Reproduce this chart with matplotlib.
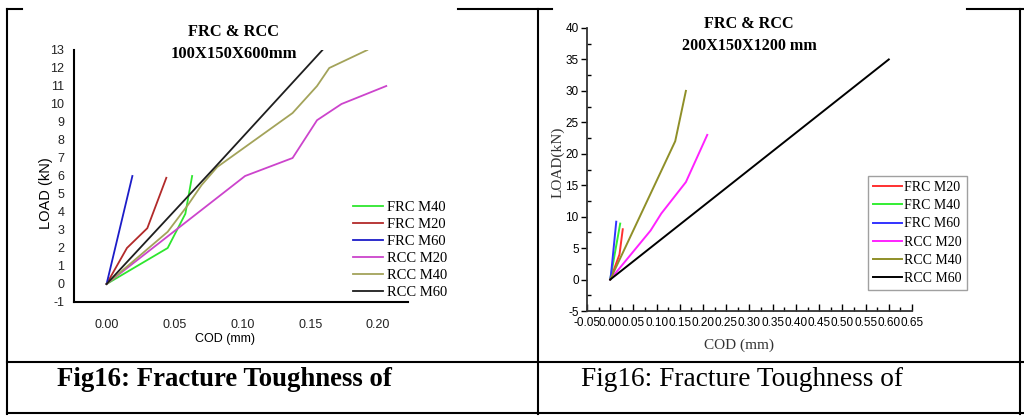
import matplotlib
matplotlib.use("Agg")
import matplotlib.pyplot as plt
from matplotlib.ticker import MultipleLocator
from matplotlib.lines import Line2D

plt.rcParams["axes.unicode_minus"] = False

# ---------------- data: left chart (100X150X600mm) ----------------
left_labels = ["FRC M40", "FRC M20", "FRC M60", "RCC M20", "RCC M40", "RCC M60"]
left_colors = ["#2ee62e", "#b22a2a", "#1c1cc8", "#cc44cc", "#a3a35a", "#1e1e1e"]
frc_m40_x = [0.0, 0.045, 0.058, 0.063]
frc_m40_y = [0.0, 2.0, 3.9, 6.0]
frc_m20_x = [0.0, 0.015, 0.030, 0.044]
frc_m20_y = [0.0, 2.0, 3.1, 5.9]
frc_m60_x = [0.0, 0.019]
frc_m60_y = [0.0, 6.0]
rcc_m20_x = [0.0, 0.102, 0.137, 0.155, 0.173, 0.206]
rcc_m20_y = [0.0, 6.0, 7.0, 9.1, 10.0, 11.0]
rcc_m40_x = [0.0, 0.045, 0.060, 0.070, 0.0815, 0.100, 0.137, 0.155, 0.164, 0.192]
rcc_m40_y = [0.0, 2.9, 4.4, 5.5, 6.5, 7.5, 9.5, 11.0, 12.0, 13.0]
rcc_m60_x = [0.0, 0.080, 0.159]
rcc_m60_y = [0.0, 6.5, 13.0]
left_series = [(frc_m40_x, frc_m40_y), (frc_m20_x, frc_m20_y), (frc_m60_x, frc_m60_y),
               (rcc_m20_x, rcc_m20_y), (rcc_m40_x, rcc_m40_y), (rcc_m60_x, rcc_m60_y)]
left_yticks = list(range(-1, 14))
left_xticks = [0.00, 0.05, 0.10, 0.15, 0.20]

# ---------------- data: right chart (200X150X1200 mm) ----------------
right_labels = ["FRC M20", "FRC M40", "FRC M60", "RCC M20", "RCC M40", "RCC M60"]
right_colors = ["#ff3030", "#33ee33", "#3333ff", "#ff22ff", "#8f8f28", "#000000"]
r_frc_m20_x = [0.0, 0.020, 0.027]
r_frc_m20_y = [0.0, 4.0, 8.0]
r_frc_m40_x = [0.0, 0.012, 0.0215]
r_frc_m40_y = [0.0, 5.0, 8.9]
r_frc_m60_x = [0.0, 0.002, 0.013]
r_frc_m60_y = [0.0, 1.0, 9.2]
r_rcc_m20_x = [0.0, 0.087, 0.110, 0.163, 0.209]
r_rcc_m20_y = [0.0, 7.8, 10.5, 15.5, 23.0]
r_rcc_m40_x = [0.0, 0.070, 0.140, 0.163]
r_rcc_m40_y = [0.0, 11.0, 22.0, 30.0]
r_rcc_m60_x = [0.0, 0.600]
r_rcc_m60_y = [0.0, 35.0]
right_series = [(r_frc_m20_x, r_frc_m20_y), (r_frc_m40_x, r_frc_m40_y), (r_frc_m60_x, r_frc_m60_y),
                (r_rcc_m20_x, r_rcc_m20_y), (r_rcc_m40_x, r_rcc_m40_y), (r_rcc_m60_x, r_rcc_m60_y)]
right_xticks = [-0.05, 0.00, 0.05, 0.10, 0.15, 0.20, 0.25, 0.30, 0.35, 0.40, 0.45, 0.50, 0.55, 0.60, 0.65]
right_yticks = [-5, 0, 5, 10, 15, 20, 25, 30, 35, 40]

caption_left = "Fig16: Fracture Toughness of"
caption_right = "Fig16: Fracture Toughness of"

SANS = ["Liberation Sans", "DejaVu Sans"]
SERIF = ["Liberation Serif", "DejaVu Serif"]

W, H = 1024, 416
fig = plt.figure(figsize=(W / 100, H / 100), dpi=100)
fig.patch.set_facecolor("white")


def fx(px):
    return px / W


def fy(py):
    return 1 - py / H


# ---------------- left chart ----------------
axL = fig.add_axes([fx(74), fy(302), fx(408) - fx(74), fy(50) - fy(302)])
for (xs, ys), c, lab in zip(left_series, left_colors, left_labels):
    axL.plot(xs, ys, color=c, lw=1.3, label=lab)
axL.set_xlim(-0.024, 0.222)
axL.set_ylim(-1, 13)
axL.set_yticks(left_yticks)
axL.set_xticks(left_xticks)
axL.set_xticklabels([f"{v:.2f}" for v in left_xticks])
axL.spines["top"].set_visible(False)
axL.spines["right"].set_visible(False)
for s in ("left", "bottom"):
    axL.spines[s].set_linewidth(1.5)
axL.tick_params(length=0, labelsize=9, colors="#222222")
axL.tick_params(axis="y", pad=7)
axL.tick_params(axis="x", pad=12)
for t in axL.get_xticklabels() + axL.get_yticklabels():
    t.set_fontfamily(SANS)
legL = axL.legend(loc="center left", bbox_to_anchor=(fx(347), fy(250)),
                  bbox_transform=fig.transFigure, frameon=False,
                  prop={"family": SERIF, "size": 10.5}, handlelength=2.1,
                  handletextpad=0.25, labelspacing=0.27, borderaxespad=0)
fig.text(fx(234), fy(32), "FRC & RCC", ha="center", va="center",
         family=SERIF, weight="bold", size=11.8)
fig.text(fx(234), fy(54), "100X150X600mm", ha="center", va="center",
         family=SERIF, weight="bold", size=12)
fig.text(fx(46), fy(193), "LOAD (kN)", rotation=90, ha="center", va="center",
         family=SANS, size=10.5)
fig.text(fx(225), fy(339), "COD (mm)", ha="center", va="center",
         family=SANS, size=9)

# ---------------- right chart ----------------
axR = fig.add_axes([fx(587), fy(311), fx(912) - fx(587), fy(28) - fy(311)])
for (xs, ys), c, lab in zip(right_series, right_colors, right_labels):
    axR.plot(xs, ys, color=c, lw=1.4, label=lab)
axR.set_xlim(-0.05, 0.65)
axR.set_ylim(-5, 40)
axR.set_xticks(right_xticks)
axR.set_xticklabels([f"{v:.2f}" for v in right_xticks])
axR.set_yticks(right_yticks)
axR.xaxis.set_minor_locator(MultipleLocator(0.025))
axR.yaxis.set_minor_locator(MultipleLocator(2.5))
axR.spines["top"].set_visible(False)
axR.spines["right"].set_visible(False)
for s in ("left", "bottom"):
    axR.spines[s].set_linewidth(1.3)
    axR.spines[s].set_color("#333333")
axR.tick_params(axis="x", which="major", direction="in", length=5, width=1, pad=4, labelsize=8.5)
axR.tick_params(axis="x", which="minor", direction="in", length=3, width=1)
axR.tick_params(axis="y", which="major", direction="out", length=4, width=1, pad=2, labelsize=8.5)
axR.tick_params(axis="y", which="minor", direction="in", length=3, width=1)
for t in axR.get_xticklabels() + axR.get_yticklabels():
    t.set_fontfamily(SANS)
legR = axR.legend(loc="upper left", bbox_to_anchor=(fx(868), fy(176)),
                  bbox_transform=fig.transFigure, frameon=True, fancybox=False,
                  prop={"family": SERIF, "size": 10}, handlelength=2.1,
                  handletextpad=0.15, labelspacing=0.38, borderaxespad=0,
                  borderpad=0.35)
legR.get_frame().set_edgecolor("#888888")
legR.get_frame().set_linewidth(1.0)
fig.text(fx(749), fy(24), "FRC & RCC", ha="center", va="center",
         family=SERIF, weight="bold", size=11.6)
fig.text(fx(749), fy(46), "200X150X1200 mm", ha="center", va="center",
         family=SERIF, weight="bold", size=11.6)
fig.text(fx(558), fy(162), "LOAD(kN)", rotation=90, ha="center", va="center",
         family=SERIF, size=11, color="#333333")
fig.text(fx(739), fy(345), "COD (mm)", ha="center", va="center",
         family=SERIF, size=11, color="#333333")

# ---------------- table frame and captions ----------------
def hline(x0, x1, y, lw):
    fig.add_artist(Line2D([fx(x0), fx(x1)], [fy(y), fy(y)], color="black", lw=lw,
                          transform=fig.transFigure))


def vline(x, y0, y1, lw):
    fig.add_artist(Line2D([fx(x), fx(x)], [fy(y0), fy(y1)], color="black", lw=lw,
                          transform=fig.transFigure))


hline(7, 22, 9, 1.5)
hline(458, 552, 9, 1.5)
hline(967, 1024, 9, 1.5)
vline(7, 9, 414, 1.5)
vline(538, 9, 414, 1.5)
vline(1020, 9, 414, 1.5)
hline(7, 1024, 362, 1.5)
hline(7, 1024, 413, 1.5)

fig.text(fx(57), fy(380), caption_left, ha="left", va="center",
         family=SERIF, weight="bold", size=19.3)
fig.text(fx(581), fy(380), caption_right, ha="left", va="center",
         family=SERIF, size=19.7)

fig.savefig("out.png", dpi=100, facecolor="white")
